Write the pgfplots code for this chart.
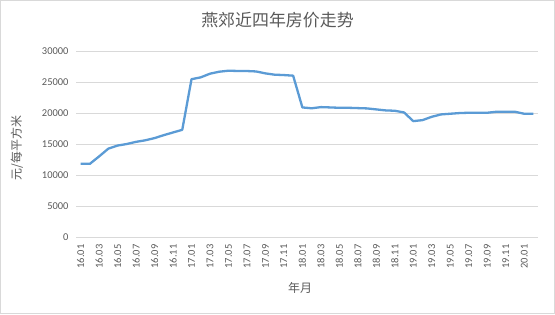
\documentclass[border=0pt]{standalone}
\usepackage{pgfplots}
\pgfplotsset{compat=1.18}
\usepackage{fontspec}
\setmainfont{Carlito}
\newfontfamily\cjk{Noto Sans CJK SC}
\definecolor{lineblue}{HTML}{5B9BD5}
\definecolor{gridc}{HTML}{D9D9D9}
\definecolor{txt}{HTML}{595959}
\begin{document}
\begin{tikzpicture}[x=1bp,y=1bp]
\draw[draw=gridc, line width=1bp] (0.5,0.5) rectangle (554.5,313.5);
\begin{axis}[
  at={(76bp,77bp)}, anchor=south west,
  scale only axis, width=462bp, height=186bp,
  xmin=-0.5, xmax=49.5, ymin=0, ymax=30000,
  xtick={0,2,...,48},
  xticklabels={16.01,16.03,16.05,16.07,16.09,16.11,17.01,17.03,17.05,17.07,17.09,17.11,18.01,18.03,18.05,18.07,18.09,18.11,19.01,19.03,19.05,19.07,19.09,19.11,20.01},
  x tick label style={rotate=90, anchor=east, font=\fontsize{10.5}{12}\selectfont, text=txt},
  y tick label style={font=\fontsize{10.5}{12}\selectfont, text=txt},
  ytick={0,5000,...,30000},
  scaled y ticks=false,
  /pgf/number format/.cd, fixed, 1000 sep={}, assume math mode=true, /pgfplots/.cd,
  ymajorgrids, grid style={color=gridc, line width=0.75bp},
  axis line style={draw=none},
  major tick length=0pt,
  xticklabel shift=4bp, yticklabel shift=4bp,
  clip=false,
]
\addplot[color=lineblue, line width=2.3bp, line join=round] table {
x y
0 11800
1 11800
2 13000
3 14250
4 14750
5 15000
6 15350
7 15600
8 15950
9 16430
10 16860
11 17290
12 25450
13 25750
14 26340
15 26660
16 26820
17 26780
18 26770
19 26700
20 26390
21 26180
22 26120
23 26020
24 20900
25 20760
26 20950
27 20900
28 20840
29 20840
30 20790
31 20740
32 20580
33 20420
34 20360
35 20090
36 18690
37 18850
38 19390
39 19770
40 19880
41 19990
42 20040
43 20040
44 20040
45 20200
46 20200
47 20200
48 19880
49 19880
};
\end{axis}
\node[text=txt, font=\cjk\fontsize{17}{20}\selectfont] at (277.5,294) {燕郊近四年房价走势};
\node[text=txt, font=\cjk\fontsize{12}{14}\selectfont, rotate=90] at (17,166) {元/每平方米};
\node[text=txt, font=\cjk\fontsize{12}{14}\selectfont] at (300,26) {年月};
\end{tikzpicture}
\end{document}
